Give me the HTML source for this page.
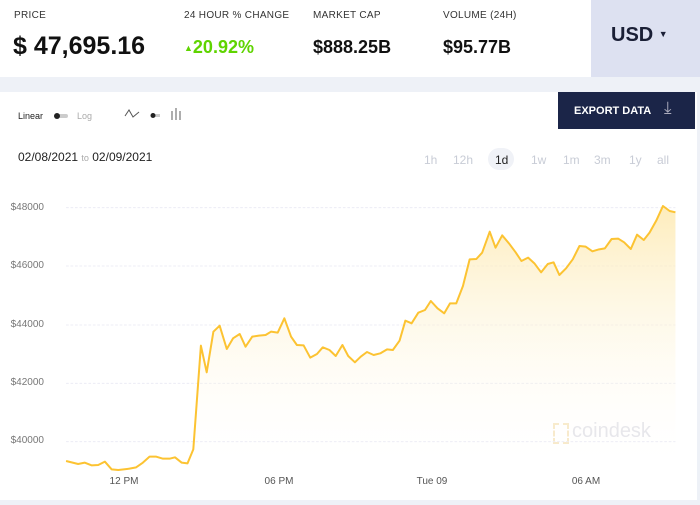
<!DOCTYPE html>
<html><head><style>
body{margin:0;width:700px;height:505px;background:#eef1f7;font-family:"Liberation Sans",sans-serif;position:relative;overflow:hidden}
.a{position:absolute}
.lbl{font-size:10px;color:#333;letter-spacing:.3px}
.tf{font-size:12px;color:#c8ccd6}
.yl{position:absolute;left:0;width:44px;text-align:right;font-size:10px;color:#777}
.xl{position:absolute;width:60px;text-align:center;font-size:10px;color:#555;top:476px}
</style></head><body>
<div class="a" style="left:0;top:0;width:591px;height:77px;background:#fff"></div>
<div class="a" style="left:591px;top:0;width:109px;height:77px;background:#dde1f1"></div>
<div class="a" style="left:611px;top:24px;font-size:20px;font-weight:bold;color:#1a1f36">USD <span style="font-size:9px;vertical-align:4px">▼</span></div>
<div class="a lbl" style="left:14px;top:10px">PRICE</div>
<div class="a lbl" style="left:184px;top:10px">24 HOUR % CHANGE</div>
<div class="a lbl" style="left:313px;top:10px">MARKET CAP</div>
<div class="a lbl" style="left:443px;top:10px">VOLUME (24H)</div>
<div class="a" style="left:13px;top:32px;font-size:25px;font-weight:bold;color:#111">$ 47,695.16</div>
<div class="a" style="left:184px;top:37px;font-size:18px;font-weight:bold;color:#5fd400"><span style="font-size:9px;vertical-align:2px">▲</span>20.92%</div>
<div class="a" style="left:313px;top:37px;font-size:18px;font-weight:bold;color:#111">$888.25B</div>
<div class="a" style="left:443px;top:37px;font-size:18px;font-weight:bold;color:#111">$95.77B</div>

<div class="a" style="left:0;top:92px;width:697px;height:408px;background:#fff"></div>
<div class="a" style="left:558px;top:92px;width:137px;height:37px;background:#1b2548"></div>
<div class="a" style="left:574px;top:105px;font-size:11px;font-weight:bold;color:#fff">EXPORT DATA</div>
<div class="a" style="left:664px;top:98px;font-size:17px;color:#aab">⤓</div>
<div class="a" style="left:18px;top:111px;font-size:9px;color:#222">Linear</div>
<div class="a" style="left:56px;top:114px;width:12px;height:4px;background:#ccc;border-radius:2px"></div>
<div class="a" style="left:54px;top:113px;width:6px;height:6px;background:#222;border-radius:3px"></div>
<div class="a" style="left:77px;top:111px;font-size:9px;color:#aaa">Log</div>
<svg class="a" style="left:124px;top:106px" width="64" height="16"><polyline points="1,10 5,4 9,11 15,6" fill="none" stroke="#555" stroke-width="1"/><rect x="27" y="8" width="9" height="3" fill="#ccc"/><circle cx="29" cy="9.5" r="2.5" fill="#222"/><path d="M48 5v9M52 2v12M56 5v9" stroke="#777" stroke-width="1.2"/></svg>
<div class="a" style="left:18px;top:150px;font-size:12px;color:#222">02/08/2021 <span style="font-size:9px;color:#aaa">to</span> 02/09/2021</div>
<div class="a tf" style="left:424px;top:153px">1h</div>
<div class="a tf" style="left:453px;top:153px">12h</div>
<div class="a" style="left:488px;top:148px;width:26px;height:22px;border-radius:11px;background:#f0f2f7"></div>
<div class="a tf" style="left:495px;top:153px;color:#222">1d</div>
<div class="a tf" style="left:531px;top:153px">1w</div>
<div class="a tf" style="left:563px;top:153px">1m</div>
<div class="a tf" style="left:594px;top:153px">3m</div>
<div class="a tf" style="left:629px;top:153px">1y</div>
<div class="a tf" style="left:657px;top:153px">all</div>

<div class="yl" style="top:202px">$48000</div>
<div class="yl" style="top:260px">$46000</div>
<div class="yl" style="top:319px">$44000</div>
<div class="yl" style="top:377px">$42000</div>
<div class="yl" style="top:435px">$40000</div>
<div class="xl" style="left:94px">12 PM</div>
<div class="xl" style="left:249px">06 PM</div>
<div class="xl" style="left:402px">Tue 09</div>
<div class="xl" style="left:556px">06 AM</div>
<div class="a" style="left:572px;top:420px;font-size:20px;color:#e4e4ea">coindesk</div>
<div class="a" style="left:553px;top:423px;width:12px;height:17px;border:2px dashed #f7e8c6"></div>

<svg class="a" style="left:0;top:180px" width="700" height="325" viewBox="0 0 1568 975" preserveAspectRatio="none">
<defs><linearGradient id="g" x1="0" y1="0" x2="0" y2="1"><stop offset="0" stop-color="#fde9b0" stop-opacity=".85"/><stop offset="1" stop-color="#fff" stop-opacity="0"/></linearGradient></defs>
<g stroke="#ececf5" stroke-width="3" stroke-dasharray="6,4">
<line x1="148" y1="83" x2="1513" y2="83"/><line x1="148" y1="258" x2="1513" y2="258"/><line x1="148" y1="435" x2="1513" y2="435"/><line x1="148" y1="610" x2="1513" y2="610"/><line x1="148" y1="785" x2="1513" y2="785"/></g>
<path d="M148,843 175,852 190,848 205,856 220,855 235,845 250,868 265,870 290,866 305,862 320,848 335,830 350,830 365,836 380,836 392,832 407,848 420,850 433,808 450,497 463,577 478,455 492,437 508,507 522,475 537,462 550,500 565,470 580,467 595,465 607,455 622,458 637,415 652,470 665,495 680,496 695,533 710,522 723,502 738,510 752,528 767,495 780,528 795,547 808,530 822,516 837,525 852,520 867,508 880,510 895,482 908,422 922,430 937,398 952,390 965,363 980,385 995,400 1008,370 1022,370 1037,318 1052,238 1067,237 1080,218 1097,155 1110,203 1125,166 1140,190 1155,217 1168,243 1183,233 1197,250 1212,277 1227,252 1240,247 1253,285 1268,265 1283,238 1298,198 1312,200 1327,214 1342,208 1355,205 1370,177 1385,176 1398,187 1413,207 1427,164 1442,180 1455,158 1470,122 1485,78 1500,93 1513,97 L1513,875 148,875Z" fill="url(#g)"/>
<path d="M148,843 175,852 190,848 205,856 220,855 235,845 250,868 265,870 290,866 305,862 320,848 335,830 350,830 365,836 380,836 392,832 407,848 420,850 433,808 450,497 463,577 478,455 492,437 508,507 522,475 537,462 550,500 565,470 580,467 595,465 607,455 622,458 637,415 652,470 665,495 680,496 695,533 710,522 723,502 738,510 752,528 767,495 780,528 795,547 808,530 822,516 837,525 852,520 867,508 880,510 895,482 908,422 922,430 937,398 952,390 965,363 980,385 995,400 1008,370 1022,370 1037,318 1052,238 1067,237 1080,218 1097,155 1110,203 1125,166 1140,190 1155,217 1168,243 1183,233 1197,250 1212,277 1227,252 1240,247 1253,285 1268,265 1283,238 1298,198 1312,200 1327,214 1342,208 1355,205 1370,177 1385,176 1398,187 1413,207 1427,164 1442,180 1455,158 1470,122 1485,78 1500,93 1513,97" fill="none" stroke="#fcc332" stroke-width="2" vector-effect="non-scaling-stroke" stroke-linejoin="round"/>
</svg>
</body></html>
